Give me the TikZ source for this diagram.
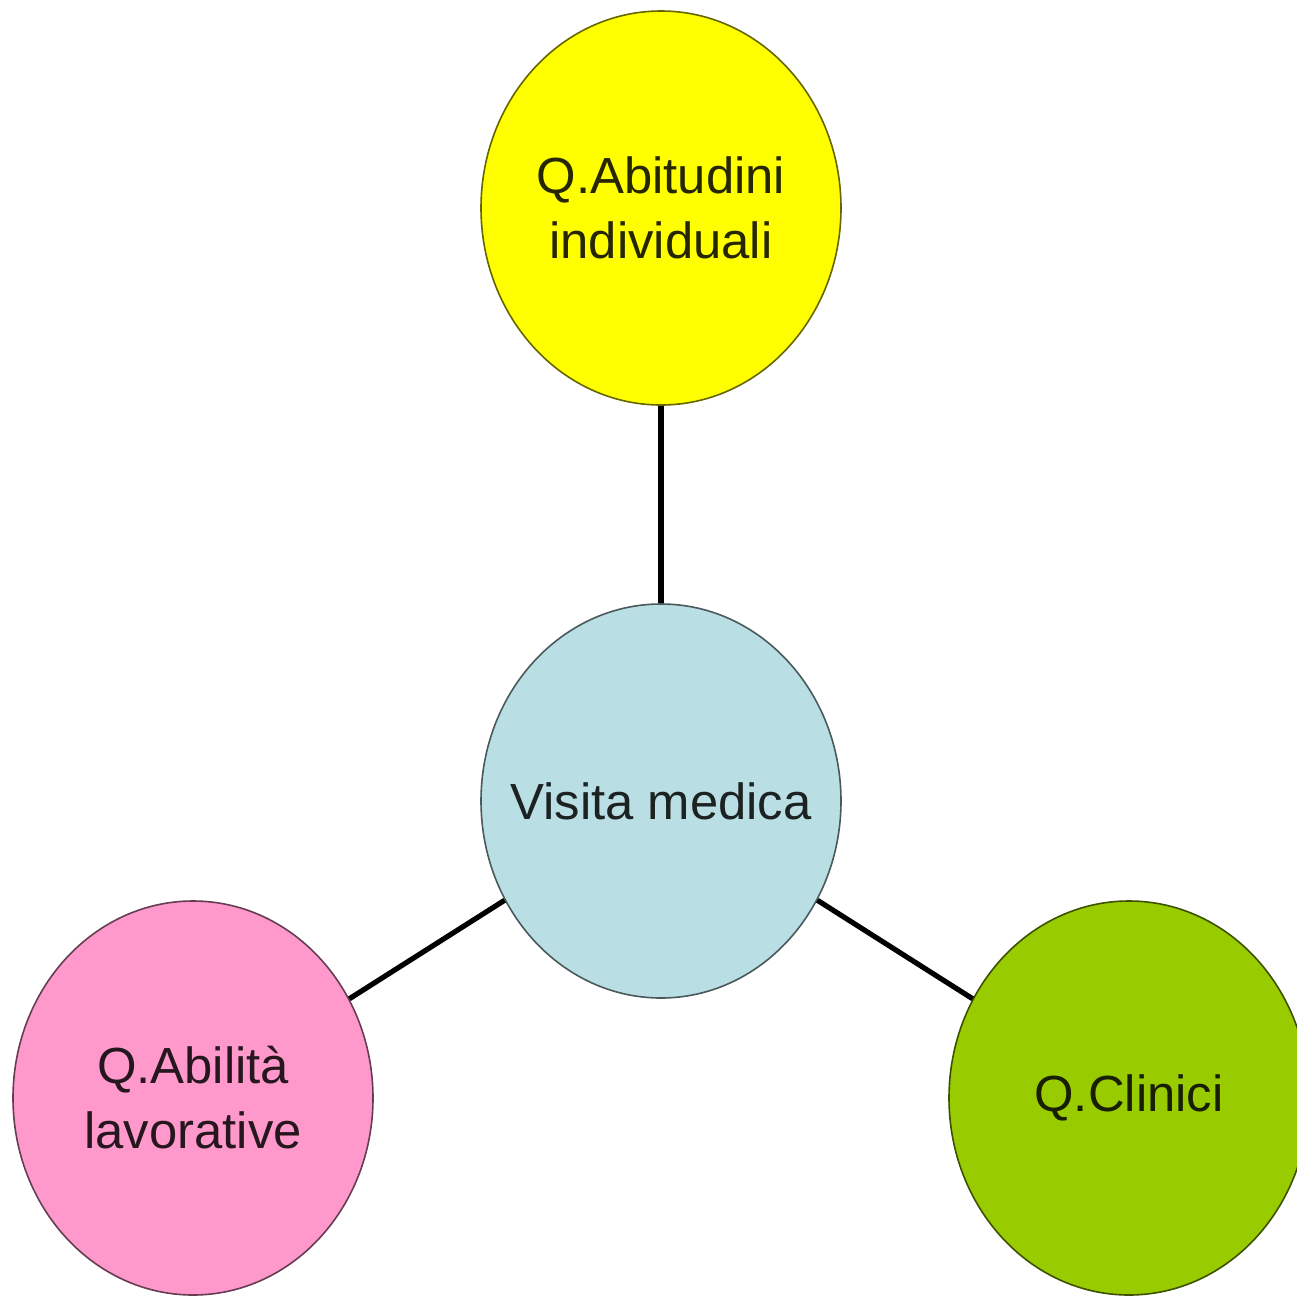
\documentclass[tikz,border=0pt]{standalone}
\usepackage{fontspec}
\setmainfont{Liberation Sans}
\usetikzlibrary{shapes.geometric}
\definecolor{giallo}{HTML}{FFFF00}
\definecolor{azzurro}{HTML}{B9DFE4}
\definecolor{rosa}{HTML}{FF99CC}
\definecolor{verde}{HTML}{99CC00}
\tikzset{
    bolla/.style={ellipse, minimum width=180pt, minimum height=197pt,
        inner xsep=-15pt, inner ysep=0pt,
        align=center, line width=0.8pt, font=\fontsize{25.4}{32.5}\selectfont,
        fill=#1, draw=#1!40!black, text=#1!15!black},
    legame/.style={line width=2.6pt, black}
}
\begin{document}
\begin{tikzpicture}[x=0.5pt, y=-0.5pt]
    \clip (0,0) rectangle (1297,1296);
    \fill[white] (0,0) rectangle (1297,1296);

    \node[bolla=giallo] (abitudini) at (661,208) {Q.Abitudini\\individuali};
    \node[bolla=azzurro] (visita) at (661,801) {Visita medica};
    \node[bolla=rosa] (abilita) at (193,1098) {Q.Abilità\\lavorative};
    \node[bolla=verde] (clinici) at (1129,1098) {Q.Clinici};

    \draw[legame] (abitudini)--(visita);
    \draw[legame] (visita)--(abilita);
    \draw[legame] (visita)--(clinici);
\end{tikzpicture}
\end{document}
